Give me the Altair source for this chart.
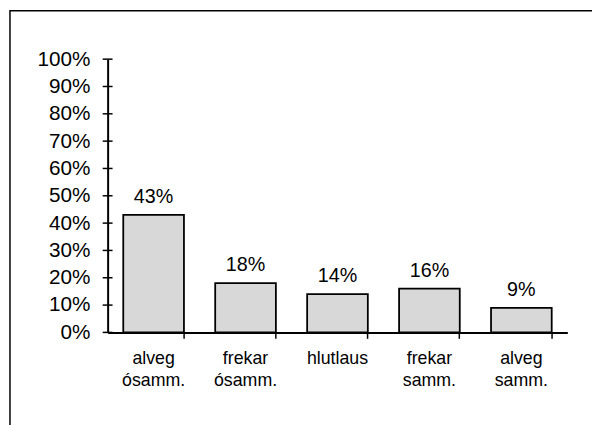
import altair as alt
import pandas as pd

categories = ["alveg ósamm.", "frekar ósamm.", "hlutlaus", "frekar samm.", "alveg samm."]
values = [43, 18, 14, 16, 9]
y_ticks = [0, 10, 20, 30, 40, 50, 60, 70, 80, 90, 100]

df = pd.DataFrame({"cat": categories, "val": values})
df["label"] = [f"{v}%" for v in values]
ticks_df = pd.DataFrame({"t": y_ticks})
box_df = pd.DataFrame({"a": [0]})

FONT = "Liberation Sans"
W, H = 466, 277

x_axis = alt.Axis(
    title=None,
    labelAngle=0,
    labelExpr="split(datum.label, ' ')",
    labelFont=FONT,
    labelFontSize=18,
    labelLineHeight=22,
    labelColor="black",
    labelPadding=12,
    labelBaseline="top",
    labelOverlap=False,
    bandPosition=1,
    ticks=True,
    tickSize=6,
    tickColor="black",
    tickWidth=1.5,
    domainColor="black",
    domainWidth=2,
    grid=False,
)
y_axis = alt.Axis(
    title=None,
    values=y_ticks,
    labelExpr="datum.value + '%'",
    labelFont=FONT,
    labelFontSize=21,
    labelColor="black",
    labelPadding=18,
    labelOverlap=False,
    ticks=False,
    domainColor="black",
    domainWidth=2,
    grid=False,
)
x_scale = alt.Scale(paddingInner=0.34, paddingOuter=0.17)
y_scale = alt.Scale(domain=[0, 100], nice=False)

bars = alt.Chart(df).mark_bar(
    color="#d8d8d8", stroke="black", strokeWidth=1.8
).encode(
    x=alt.X("cat:N", sort=None, scale=x_scale, axis=x_axis),
    y=alt.Y("val:Q", scale=y_scale, axis=y_axis),
)

text = alt.Chart(df).mark_text(
    font=FONT, fontSize=20, color="black", baseline="bottom", dy=-8
).encode(
    x=alt.X("cat:N", sort=None, scale=x_scale, axis=x_axis),
    y=alt.Y("val:Q", scale=y_scale, axis=y_axis),
    text="label:N",
)

yticks = alt.Chart(ticks_df).mark_rule(color="black", strokeWidth=1.5).encode(
    y=alt.Y("t:Q", scale=y_scale, axis=y_axis), x=alt.value(-5), x2=alt.value(5)
)

box = alt.Chart(box_df).mark_rect(
    fill="white", fillOpacity=0, stroke="black", strokeWidth=1.5
).encode(
    x=alt.value(-99), x2=alt.value(520), y=alt.value(-49), y2=alt.value(430)
)

chart = (
    alt.layer(box, bars, text, yticks)
    .properties(
        width=W,
        height=H,
        background="white",
        autosize=alt.AutoSizeParams(type="none"),
        padding={"left": 101, "top": 49, "right": 25, "bottom": 91},
    )
    .configure_view(strokeWidth=0, stroke="transparent")
    .configure_axis(labelOverlap=False)
)

chart.save("out.html", embed_options={"renderer": "svg", "actions": False})
